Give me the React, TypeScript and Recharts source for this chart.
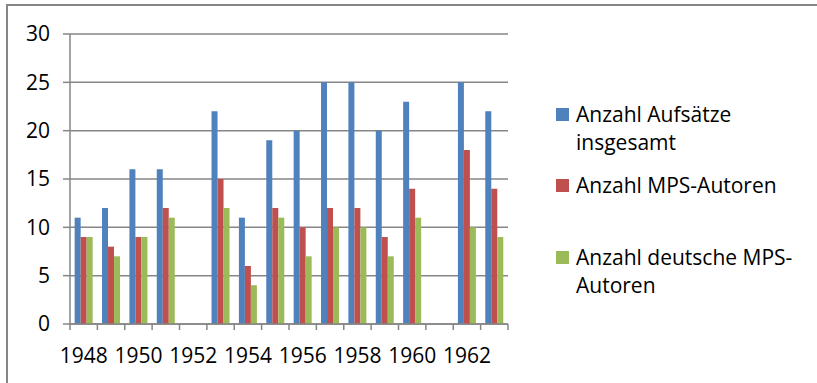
import { BarChart, Bar, XAxis, YAxis, CartesianGrid } from "recharts"

const years = [
  "1948", "1949", "1950", "1951", "1952", "1953", "1954", "1955",
  "1956", "1957", "1958", "1959", "1960", "1961", "1962", "1963",
]
const aufsaetze = [11, 12, 16, 16, null, 22, 11, 19, 20, 25, 25, 20, 23, null, 25, 22]
const mpsAutoren = [9, 8, 9, 12, null, 15, 6, 12, 10, 12, 12, 9, 14, null, 18, 14]
const deutscheAutoren = [9, 7, 9, 11, null, 12, 4, 11, 7, 10, 10, 7, 11, null, 10, 9]
const yTicks = [0, 5, 10, 15, 20, 25, 30]

const seriesNames = ["Anzahl Aufsätze insgesamt", "Anzahl MPS-Autoren", "Anzahl deutsche MPS-Autoren"]
const legendLines = [
  ["Anzahl Aufsätze", "insgesamt"],
  ["Anzahl MPS-Autoren"],
  ["Anzahl deutsche MPS-", "Autoren"],
]

const data = years.map((year, i) => ({
  year,
  aufsaetze: aufsaetze[i],
  mps: mpsAutoren[i],
  deutsche: deutscheAutoren[i],
}))

const COLORS = ["#4F81BD", "#C0504D", "#9BBB59"]
const AXIS = "#868686"
const FONT = "'Open Sans', sans-serif"
const FONT_SIZE = 21

// legend entry tops, relative to the chart
const legendTops = [100, 171, 243]

const YearTick = (props: any) => {
  const { x, y, payload, index, width, visibleTicksCount } = props
  const step = visibleTicksCount ? width / visibleTicksCount : (payload.offset || 0) * 2
  const left = x - step / 2
  return (
    <g>
      <line x1={left} x2={left} y1={y - 6} y2={y} stroke={AXIS} strokeWidth={1.5} />
      {index === visibleTicksCount - 1 && (
        <line x1={x + step / 2} x2={x + step / 2} y1={y - 6} y2={y} stroke={AXIS} strokeWidth={1.5} />
      )}
      {index % 2 === 0 && (
        <text x={x} y={y} dy={33} textAnchor="middle" fill="#000" fontSize={FONT_SIZE} fontFamily={FONT}>
          {payload.value}
        </text>
      )}
    </g>
  )
}

const SideLegend = () => (
  <>
    {legendLines.map((lines, i) => (
      <div
        key={seriesNames[i]}
        style={{ position: "absolute", left: 556, top: legendTops[i], display: "flex", fontFamily: FONT, fontSize: FONT_SIZE, lineHeight: "28px", color: "#000" }}
      >
        <div style={{ width: 13, height: 13, marginTop: 8, marginRight: 7, background: COLORS[i], flexShrink: 0 }} />
        <div>
          {lines.map((l) => (
            <div key={l} style={{ whiteSpace: "nowrap" }}>{l}</div>
          ))}
        </div>
      </div>
    ))}
  </>
)

export default function App() {
  return (
    <div style={{ position: "absolute", left: 0, top: 0, width: 817, height: 383, background: "#fff" }}>
      <div style={{ position: "absolute", left: 6, top: 4, right: 0, bottom: 0, borderTop: `2px solid ${AXIS}`, borderLeft: `2px solid ${AXIS}` }} />
      <div style={{ position: "absolute", left: 0, top: 0 }}>
        <BarChart
          width={817}
          height={383}
          data={data}
          margin={{ top: 34, right: 309, bottom: 29, left: 0 }}
          barGap={0}
          barCategoryGap="17%"
        >
          <CartesianGrid vertical={false} stroke={AXIS} strokeWidth={1.5} />
          <XAxis
            dataKey="year"
            interval={0}
            height={30}
            tickSize={6}
            tickMargin={0}
            tickLine={false}
            stroke={AXIS}
            strokeWidth={1.5}
            tick={<YearTick />}
          />
          <YAxis
            width={70}
            domain={[0, 30]}
            ticks={yTicks}
            tickSize={7}
            tickMargin={13}
            stroke={AXIS}
            strokeWidth={1.5}
            tick={{ fill: "#000", fontSize: FONT_SIZE, fontFamily: FONT }}
          />
          <Bar dataKey="aufsaetze" name={seriesNames[0]} fill={COLORS[0]} isAnimationActive={false} />
          <Bar dataKey="mps" name={seriesNames[1]} fill={COLORS[1]} isAnimationActive={false} />
          <Bar dataKey="deutsche" name={seriesNames[2]} fill={COLORS[2]} isAnimationActive={false} />
        </BarChart>
      </div>
      <SideLegend />
    </div>
  )
}
